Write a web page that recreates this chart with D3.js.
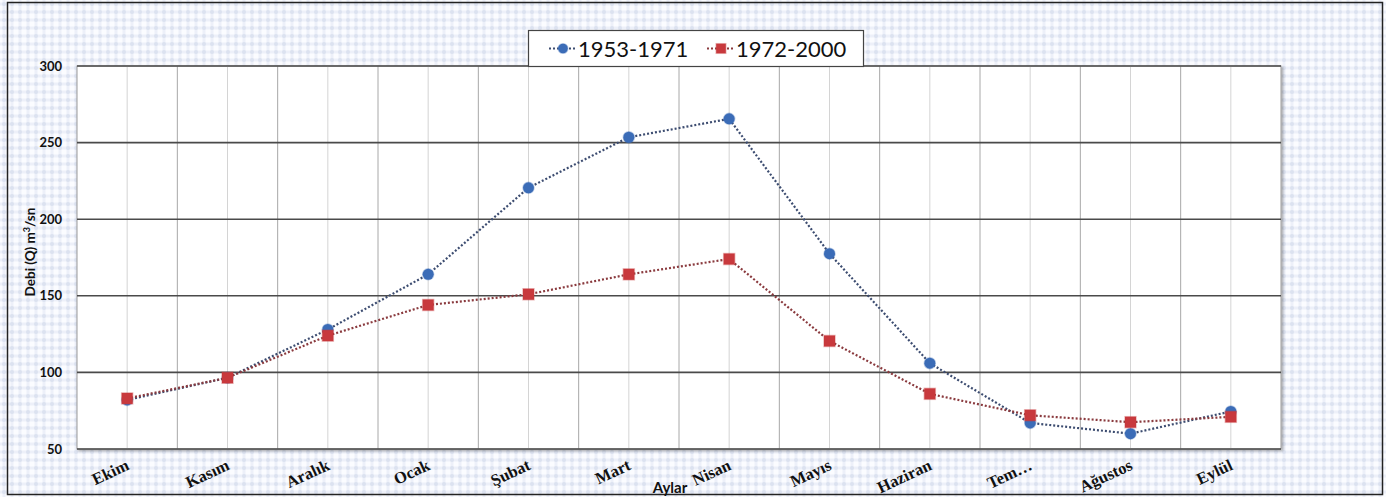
<!DOCTYPE html>
<html>
<head>
<meta charset="utf-8">
<script src="https://cdn.jsdelivr.net/npm/d3@7"></script>
<style>
  html, body { margin: 0; padding: 0; background: #ffffff; }
  svg { display: block; }
</style>
</head>
<body>
<svg id="chart" width="1386" height="497"></svg>
<script>
// Monthly mean discharge, two periods
const months = ["Ekim", "Kasım", "Aralık", "Ocak", "Şubat", "Mart", "Nisan", "Mayıs", "Haziran", "Tem…", "Ağustos", "Eylül"];
const period1 = [82, 96.5, 128, 164, 220.5, 253.5, 265.5, 177.5, 106, 67, 60, 74.5];   // 1953-1971
const period2 = [83, 96.5, 124, 144, 151, 164, 174, 120.5, 86, 72, 67.5, 71];          // 1972-2000
const seriesNames = ["1953-1971", "1972-2000"];
const yTicks = [50, 100, 150, 200, 250, 300];

const svg = d3.select("#chart");
const W = 1386, H = 497;
const plot = { left: 77, right: 1281, top: 66, bottom: 449 };

// background: soft dotted graph-paper texture
const defs = svg.append("defs");
const pat = defs.append("pattern").attr("id", "paper")
  .attr("width", 8).attr("height", 8).attr("patternUnits", "userSpaceOnUse");
pat.append("rect").attr("width", 8).attr("height", 8).attr("fill", "#fbfcff");
pat.append("rect").attr("x", 0).attr("y", 2.5).attr("width", 8).attr("height", 3).attr("fill", "#edf0f9");
pat.append("rect").attr("x", 2.5).attr("y", 0).attr("width", 3).attr("height", 8).attr("fill", "#edf0f9");
pat.append("circle").attr("cx", 4).attr("cy", 4).attr("r", 2).attr("fill", "#dce2f0");

const shadow = defs.append("filter").attr("id", "shadow")
  .attr("x", "-2%").attr("y", "-2%").attr("width", "104%").attr("height", "106%");
shadow.append("feDropShadow").attr("dx", 1.5).attr("dy", 1.5).attr("stdDeviation", 1.2)
  .attr("flood-color", "#000").attr("flood-opacity", 0.35);

svg.append("rect").attr("x", 0).attr("y", 0).attr("width", W).attr("height", H).attr("fill", "url(#paper)");
svg.append("rect").attr("x", 7.5).attr("y", 2.5).attr("width", 1375).attr("height", 492)
  .attr("fill", "none").attr("stroke", "#222").attr("stroke-width", 1.5);

// scales
const x = d3.scaleBand().domain(months).range([plot.left, plot.right]).padding(0);
const y = d3.scaleLinear().domain([50, 300]).range([plot.bottom, plot.top]);
const cx = m => x(m) + x.bandwidth() / 2;

// plot area
svg.append("rect").attr("x", plot.left).attr("y", plot.top)
  .attr("width", plot.right - plot.left).attr("height", plot.bottom - plot.top)
  .attr("fill", "#ffffff").attr("stroke", "#9a9a9a").attr("stroke-width", 1)
  .attr("filter", "url(#shadow)");

const grid = svg.append("g");
// vertical grid: category boundaries and centres
months.forEach((m, i) => {
  if (i > 0) {
    grid.append("line").attr("x1", x(m)).attr("x2", x(m)).attr("y1", plot.top).attr("y2", plot.bottom)
      .attr("stroke", "#a8a8a8").attr("stroke-width", 1);
  }
  grid.append("line").attr("x1", cx(m)).attr("x2", cx(m)).attr("y1", plot.top).attr("y2", plot.bottom)
    .attr("stroke", "#d4d4d4").attr("stroke-width", 1);
});
// horizontal grid
yTicks.forEach(t => {
  grid.append("line").attr("x1", plot.left).attr("x2", plot.right).attr("y1", y(t)).attr("y2", y(t))
    .attr("stroke", "#4a4a4a").attr("stroke-width", 1.6);
});

// y axis labels
const yAxis = d3.axisLeft(y).tickValues(yTicks).tickSize(0).tickPadding(15);
const yg = svg.append("g").attr("transform", `translate(${plot.left},0)`).call(yAxis);
yg.select(".domain").remove();
yg.selectAll("text").attr("font-family", "Lato, 'Open Sans', sans-serif").attr("font-weight", 700)
  .attr("font-size", 13).attr("fill", "#111");

svg.append("text").attr("transform", `translate(35,252) rotate(-90)`)
  .attr("text-anchor", "middle").attr("font-family", "Lato, 'Open Sans', sans-serif")
  .attr("font-weight", 700).attr("font-size", 13.5).attr("fill", "#111")
  .html("Debi (Q) m<tspan baseline-shift=\"super\" font-size=\"9\">3</tspan>/sn");

// x axis labels (rotated)
const xg = svg.append("g");
months.forEach(m => {
  xg.append("text").attr("transform", `translate(${cx(m) + 3},469) rotate(-25)`)
    .attr("text-anchor", "end").attr("font-family", "'Liberation Serif', 'DejaVu Serif', serif")
    .attr("font-weight", 700).attr("font-size", 16.5).attr("fill", "#111").text(m);
});
svg.append("text").attr("x", 670).attr("y", 493).attr("text-anchor", "middle")
  .attr("font-family", "Lato, 'Open Sans', sans-serif").attr("font-weight", 700)
  .attr("font-size", 15).attr("fill", "#111").text("Aylar");

// series
const series = [
  { name: seriesNames[0], values: period1, line: "#3c4c70", fill: "#3b6cb7", shape: "circle" },
  { name: seriesNames[1], values: period2, line: "#8a3a3e", fill: "#c8393d", shape: "square" }
];
const lineGen = d3.line().x((d, i) => cx(months[i])).y(d => y(d));

function marker(g, shape, px, py, fill, size) {
  const r = size || 5.5;
  if (shape === "circle") {
    g.append("circle").attr("cx", px).attr("cy", py).attr("r", r).attr("fill", fill)
      .attr("stroke", fill).attr("stroke-opacity", 0.35).attr("stroke-width", 1.5);
  } else {
    g.append("rect").attr("x", px - r).attr("y", py - r).attr("width", 2 * r).attr("height", 2 * r)
      .attr("fill", fill).attr("stroke", fill).attr("stroke-opacity", 0.35).attr("stroke-width", 1.5);
  }
}

series.forEach(s => {
  svg.append("path").datum(s.values).attr("d", lineGen).attr("fill", "none")
    .attr("stroke", s.line).attr("stroke-width", 2.2).attr("stroke-dasharray", "2,2");
});
series.forEach(s => {
  const g = svg.append("g");
  s.values.forEach((v, i) => marker(g, s.shape, cx(months[i]), y(v), s.fill));
});

// legend
const lg = svg.append("g");
lg.append("rect").attr("x", 528.5).attr("y", 30.5).attr("width", 335).attr("height", 36)
  .attr("fill", "#ffffff").attr("stroke", "#444").attr("stroke-width", 1.2);
const legendItems = [
  { s: series[0], x0: 549 },
  { s: series[1], x0: 707 }
];
legendItems.forEach(it => {
  lg.append("line").attr("x1", it.x0).attr("x2", it.x0 + 28).attr("y1", 48.5).attr("y2", 48.5)
    .attr("stroke", it.s.line).attr("stroke-width", 2).attr("stroke-dasharray", "2,2");
  marker(lg, it.s.shape, it.x0 + 14, 48.5, it.s.fill, 4.8);
  lg.append("text").attr("x", it.x0 + 29).attr("y", 56.5)
    .attr("font-family", "Lato, 'Open Sans', sans-serif").attr("font-size", 22).attr("fill", "#111")
    .text(it.s.name);
});
</script>
</body>
</html>
